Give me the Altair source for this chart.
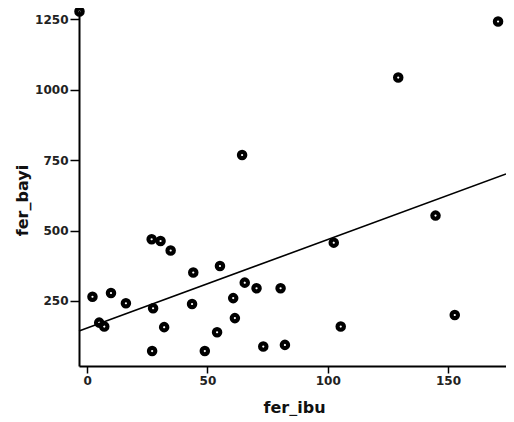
import altair as alt
import pandas as pd

# fer_ibu (x) and fer_bayi (y)
fer_ibu = [2.2, 9.9, 16.1, 5.0, 7.1, 26.8, 30.5, 34.7, 27.4, 32.0, 27.0, 44.1,
           43.6, 55.2, 48.9, 54.0, 60.7, 61.4, 65.5, 70.4, 73.2, 80.4, 82.2,
           102.5, 105.4, 144.8, 152.8, 129.3, 170.8, 64.4, -3.2]
fer_bayi = [265, 278, 242, 173, 159, 469, 463, 429, 224, 157, 72, 351,
            239, 374, 72, 139, 260, 189, 315, 295, 88, 295, 94,
            457, 159, 553, 200, 1043, 1242, 768, 1278]

# fitted line endpoints
line_x = [-3.4, 174.1]
line_y = [143, 701]

x_ticks = [0, 50, 100, 150]
y_ticks = [250, 500, 750, 1000, 1250]

pts = pd.DataFrame({"fer_ibu": fer_ibu, "fer_bayi": fer_bayi})
fit = pd.DataFrame({"fer_ibu": line_x, "fer_bayi": line_y})

FONT = "DejaVu Sans"

xs = alt.Scale(domain=[-3.4, 174.1], nice=False, zero=False)
ys = alt.Scale(domain=[19, 1283], nice=False, zero=False)

x_axis = alt.Axis(values=x_ticks, grid=False, title="fer_ibu", format="d",
                  titleX=215, titleY=46, titleAlign="center",
                  titleBaseline="alphabetic", tickSize=7)
y_axis = alt.Axis(values=y_ticks, grid=False, title="fer_bayi", format="d",
                  titleX=-57, titleY=190, titleAlign="center",
                  titleBaseline="middle", titleAngle=270, tickSize=9)

points = alt.Chart(pts).mark_point(
    shape="circle", filled=False, color="black", size=40, strokeWidth=4.2,
    opacity=1
).encode(
    x=alt.X("fer_ibu:Q", scale=xs, axis=x_axis),
    y=alt.Y("fer_bayi:Q", scale=ys, axis=y_axis),
)

line = alt.Chart(fit).mark_line(color="black", strokeWidth=1.6).encode(
    x=alt.X("fer_ibu:Q", scale=xs),
    y=alt.Y("fer_bayi:Q", scale=ys),
)

chart = alt.layer(line, points).properties(
    width=427, height=356,
    autosize=alt.AutoSizeParams(type="none"),
    padding={"left": 71, "top": 2, "right": 0, "bottom": 50},
    background="white",
).configure_view(stroke=None).configure_axis(
    domainColor="black", domainWidth=2, tickColor="black", tickWidth=1.5,
    labelPadding=2, labelFont=FONT, labelFontSize=12,
    labelFontWeight="bold", labelColor="#222", titleFont=FONT,
    titleFontSize=16, titleFontWeight="bold", titleColor="#111",
)

chart.save("out.html", embed_options={"renderer": "svg", "actions": False})
